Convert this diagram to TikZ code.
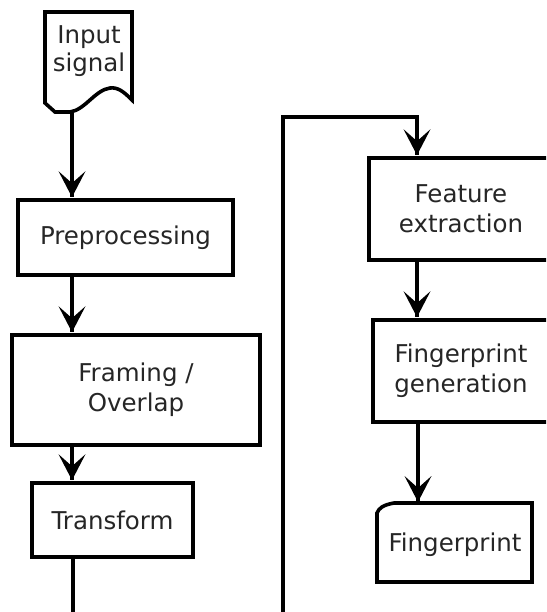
\documentclass[tikz,border=0pt]{standalone}
\usepackage{fontspec}
\setmainfont{DejaVu Sans}
\usetikzlibrary{calc}
\tikzset{
  box/.style={draw=black, line width=3.6pt, rectangle, inner sep=0pt, align=center, text=black!85,
    font=\fontsize{24.5}{30}\selectfont},
  lbl/.style={inner sep=0pt, align=center, text=black!85, font=\fontsize{24.5}{28}\selectfont},
  shapeline/.style={draw=black, line width=3.6pt, line join=miter},
  conn/.style={line width=3.6pt},
  dart/.pic={\fill[black] (0,0) -- (-13.5,-26) -- (0,-14) -- (13.5,-26) -- cycle;}
}
\begin{document}
\begin{tikzpicture}[x=1pt,y=-1pt]
\useasboundingbox (0,0) rectangle (546,612);
\clip (0,0) rectangle (546,612);
\fill[white] (0,0) rectangle (546,612);
% input signal (document shape)
\draw[shapeline] (45,12) -- (132,12) -- (132,100)
  .. controls (124,92) and (118,87) .. (110,88)
  .. controls (95,90) and (85,110) .. (70,112)
  -- (55,112) -- (45,103) -- cycle;
\node[lbl] (in) at (89,51) {Input\\signal};
\coordinate (inb) at (72,111);
% boxes
\node[box, minimum width=215pt, minimum height=75pt] (pre) at (125.5,237.5) {Preprocessing};
\node[box, minimum width=248pt, minimum height=110pt] (frm) at (136,390) {Framing /\\Overlap};
\node[box, minimum width=161pt, minimum height=74pt] (tr) at (112.5,520) {Transform};
\node[box, minimum width=184pt, minimum height=102pt] (fe) at (461,209) {Feature\\extraction};
\node[box, minimum width=176pt, minimum height=102pt] (fg) at (461,371) {Fingerprint\\generation};
% fingerprint card
\draw[shapeline] (377,582) -- (377,513) .. controls (379,508) and (383,505) .. (394,503)
  -- (532,503) -- (532,582) -- cycle;
\node[lbl] (fp) at (455,545) {Fingerprint};
\coordinate (fpt) at (418,502);
% connectors
\coordinate (c1) at (72,0);
\coordinate (c2) at (73,0);
\coordinate (c3) at (417,0);
\coordinate (t1) at ($(inb |- pre.north)+(0,-1)$);
\coordinate (t2) at ($(c1 |- frm.north)+(0,-1)$);
\coordinate (t3) at ($(c1 |- tr.north)+(0,-1)$);
\coordinate (t4) at ($(c3 |- fe.north)+(0,-1)$);
\coordinate (t5) at ($(c3 |- fg.north)+(0,-1)$);
\draw[conn] (inb) -- (t1);
\draw[conn] (c1 |- pre.south) -- (t2);
\draw[conn] (c1 |- frm.south) -- (t3);
\coordinate (lb) at (73,614);
\coordinate (lr) at (283,614);
\coordinate (lt) at (283,117);
\coordinate (lu) at (417,117);
\draw[conn, line join=miter] (c2 |- tr.south) -- (lb) -- (lr) -- (lt) -- (lu) -- (t4);
\draw[conn] (c3 |- fe.south) -- (t5);
\draw[conn] (fpt |- fg.south) -- (fpt);
\foreach \t in {t1,t2,t3,t4,t5,fpt} \pic at (\t) {dart};
\end{tikzpicture}
\end{document}
